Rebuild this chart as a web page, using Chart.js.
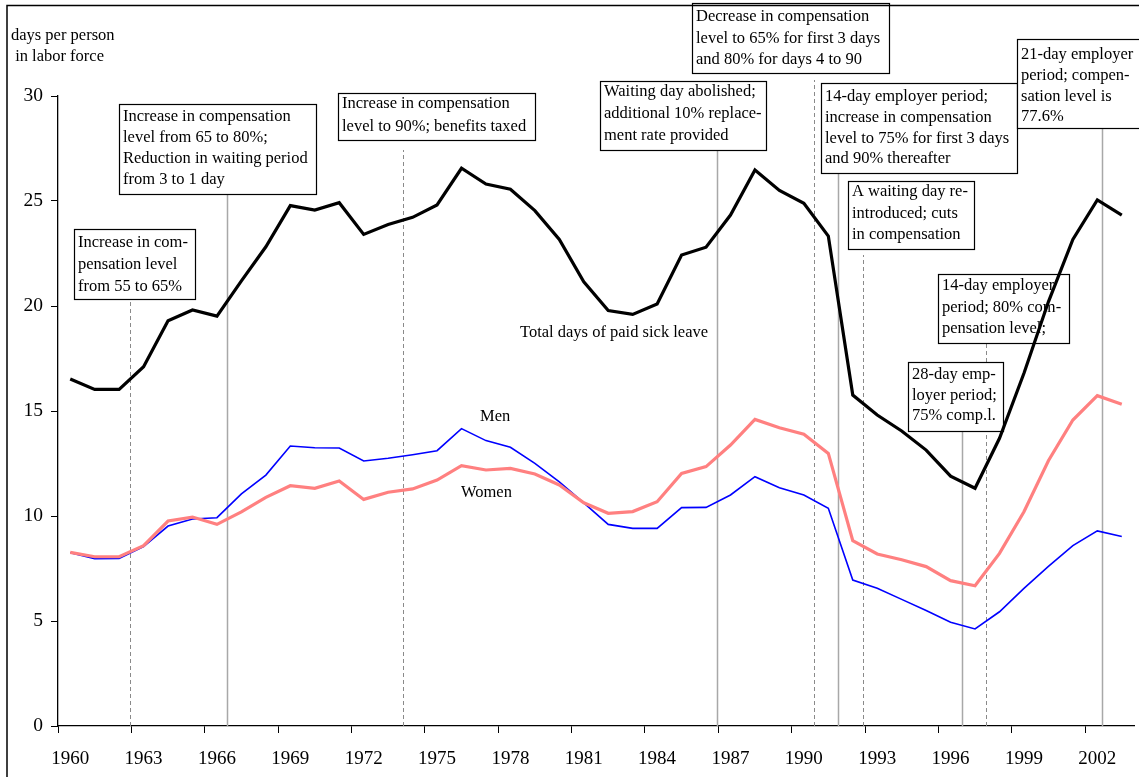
<!DOCTYPE html>
<html><head><meta charset="utf-8">
<script src="https://cdn.jsdelivr.net/npm/chart.js@4.4.0/dist/chart.umd.min.js"></script>
<style>html,body{margin:0;padding:0;background:#fff}#wrap{width:1139px;height:777px;position:relative}</style>
</head><body><div id="wrap"><canvas id="c" width="1139" height="777"></canvas></div>
<script>
// ---- data ----
const years = [1960,1961,1962,1963,1964,1965,1966,1967,1968,1969,1970,1971,1972,1973,1974,1975,1976,1977,1978,1979,1980,1981,1982,1983,1984,1985,1986,1987,1988,1989,1990,1991,1992,1993,1994,1995,1996,1997,1998,1999,2000,2001,2002,2003];
const totalDays = [16.52,16.03,16.03,17.11,19.30,19.81,19.52,21.20,22.82,24.78,24.57,24.92,23.41,23.88,24.22,24.81,26.56,25.81,25.56,24.54,23.17,21.15,19.78,19.60,20.10,22.43,22.80,24.33,26.48,25.50,24.89,23.33,15.76,14.81,14.05,13.14,11.90,11.32,13.70,16.80,20.20,23.17,25.05,24.33];
const menDays = [8.25,7.97,7.98,8.54,9.52,9.86,9.92,11.05,11.95,13.33,13.25,13.24,12.62,12.75,12.92,13.11,14.16,13.59,13.27,12.51,11.63,10.63,9.60,9.41,9.41,10.40,10.41,11.00,11.87,11.35,11.00,10.37,6.95,6.56,6.03,5.50,4.94,4.62,5.44,6.55,7.60,8.59,9.29,9.02];
const womenDays = [8.27,8.06,8.06,8.59,9.76,9.95,9.60,10.20,10.89,11.44,11.32,11.67,10.79,11.13,11.29,11.71,12.40,12.19,12.27,12.00,11.48,10.63,10.13,10.21,10.68,12.03,12.35,13.38,14.60,14.20,13.89,12.98,8.83,8.19,7.92,7.59,6.92,6.68,8.22,10.20,12.63,14.57,15.73,15.32];
const xTickYears = [1960,1963,1966,1969,1972,1975,1978,1981,1984,1987,1990,1993,1996,1999,2002];
const yTickValues = [0,5,10,15,20,25,30];
// policy change events (time of change) and whether drawn dashed
const eventTimes = [1962.45,1966.4,1973.6,1986.45,1990.4,1991.4,1992.4,1996.45,1997.45,2002.2];
const eventDashed = [true,false,true,false,true,false,true,false,true,false];
const eventTexts = [
  ["Increase in com-","pensation level","from 55 to 65%"],
  ["Increase in compensation","level from 65 to 80%;","Reduction in waiting period","from 3 to 1 day"],
  ["Increase in compensation","level to 90%; benefits taxed"],
  ["Waiting day abolished;","additional 10% replace-","ment rate provided"],
  ["Decrease in compensation","level to 65% for first 3 days","and 80% for days 4 to 90"],
  ["14-day employer period;","increase in compensation","level to 75% for first 3 days","and 90% thereafter"],
  ["A waiting day re-","introduced; cuts","in compensation"],
  ["28-day emp-","loyer period;","75% comp.l."],
  ["14-day employer","period; 80% com-","pensation level;"],
  ["21-day employer","period; compen-","sation level is","77.6%"]
];
const seriesLabels = ["Total days of paid sick leave","Men","Women"];
const yTitle = ["days per person"," in labor force"];

// ---- layout (pixels) ----
const boxLayout = [
  {x:74,y:229,w:121,h:70,ty:243,lh:22},
  {x:119,y:104,w:197,h:90,ty:117,lh:21},
  {x:338,y:93,w:197,h:47,ty:104,lh:23},
  {x:600,y:81,w:166,h:69,ty:92,lh:22},
  {x:692,y:3,w:197,h:70,ty:17,lh:21.5},
  {x:821,y:83,w:196,h:90,ty:97,lh:20.7},
  {x:848,y:181,w:126,h:68,ty:192,lh:21.5},
  {x:908,y:362,w:95,h:69,ty:375,lh:20.5},
  {x:938,y:274,w:131,h:69,ty:286,lh:21.3},
  {x:1017,y:39,w:140,h:89,ty:55,lh:20.6}
];
// connector lines run from the axis up to the bottom of their box (pixel y of box bottom)
const lineTopPx = [299,194,150,150,80,173,255,431,343,128];
const labelLayout = [{x:520,y:333},{x:480,y:417},{x:461,y:493}];
const FONT = "'Liberation Serif','Times New Roman',serif";

const mk = (arr) => years.map((yr,i)=>({x:yr,y:arr[i]}));

const datasets = [
  {label:seriesLabels[0], data:mk(totalDays), borderColor:'#000000', borderWidth:3.2, pointRadius:0, tension:0},
  {label:seriesLabels[2], data:mk(womenDays), borderColor:'#ff8080', borderWidth:3.2, pointRadius:0, tension:0},
  {label:seriesLabels[1], data:mk(menDays), borderColor:'#0000ff', borderWidth:1.6, pointRadius:0, tension:0}
];

// connector lines drawn through the chart's own scales, beneath the series
const connectors = {
  id:'connectors',
  beforeDatasetsDraw(chart){
    const ctx = chart.ctx, xs = chart.scales.x, ys = chart.scales.y;
    ctx.save();
    eventTimes.forEach((t,i)=>{
      const px = Math.round(xs.getPixelForValue(t)) + 0.5;
      ctx.beginPath();
      ctx.strokeStyle = eventDashed[i] ? '#8a8a8a' : '#a8a8a8';
      ctx.lineWidth = eventDashed[i] ? 1 : 1.5;
      ctx.setLineDash(eventDashed[i] ? [4,3] : []);
      ctx.moveTo(px, ys.getPixelForValue(0));
      ctx.lineTo(px, lineTopPx[i]);
      ctx.stroke();
    });
    ctx.restore();
  }
};

const annot = {
  id:'annot',
  beforeDatasetsDraw(chart){
    const ctx = chart.ctx;
    ctx.save();
    ctx.font = "16.5px " + FONT;
    ctx.textBaseline = 'middle';
    ctx.textAlign = 'left';
    boxLayout.forEach((b,i)=>{
      ctx.fillStyle = '#fff';
      ctx.fillRect(b.x,b.y,b.w,b.h);
      ctx.strokeStyle = '#000'; ctx.lineWidth = 1.2;
      ctx.strokeRect(b.x+0.5,b.y+0.5,b.w,b.h);
      ctx.fillStyle = '#000';
      eventTexts[i].forEach((ln,j)=> ctx.fillText(ln, b.x+4, b.ty + j*b.lh));
    });
    ctx.restore();
  },
  afterDraw(chart){
    const ctx = chart.ctx;
    ctx.save();
    ctx.strokeStyle='#000'; ctx.lineWidth=1.5;
    ctx.beginPath(); ctx.moveTo(7,777); ctx.lineTo(7,5.5); ctx.lineTo(1139,5.5); ctx.stroke();
    ctx.fillStyle='#000';
    ctx.textBaseline='middle'; ctx.textAlign='left';
    ctx.font = "16.5px " + FONT;
    ctx.fillText(yTitle[0], 11, 36);
    ctx.fillText(yTitle[1], 11, 57);
    labelLayout.forEach((l,i)=> ctx.fillText(seriesLabels[i], l.x, l.y));
    ctx.restore();
  }
};

new Chart(document.getElementById('c'), {
  type:'line',
  data:{datasets},
  options:{
    responsive:false, animation:false, devicePixelRatio:1,
    layout:{padding:{left:0,top:96,right:5,bottom:0}},
    plugins:{legend:{display:false}, tooltip:{enabled:false}},
    elements:{line:{borderCapStyle:'butt',borderJoinStyle:'miter'}},
    scales:{
      x:{type:'linear', min:years[0]-0.5, max:years[years.length-1]+0.5,
        afterBuildTicks:(ax)=>{ ax.ticks = xTickYears.map(v=>({value:v-0.5})); },
        afterFit:(ax)=>{ ax.height = 51; },
        ticks:{autoSkip:false, maxRotation:0, padding:15, labelOffset:12.2, color:'#000',
          font:{family:FONT,size:19}, callback:(v)=>String(Math.round(v+0.5))},
        grid:{drawOnChartArea:false, drawTicks:true, tickLength:7, color:'#000', lineWidth:1},
        border:{display:true,color:'#000',width:1.3}
      },
      y:{type:'linear', min:0, max:30,
        afterBuildTicks:(ax)=>{ ax.ticks = yTickValues.map(v=>({value:v})); },
        afterFit:(ax)=>{ ax.width = 58; },
        ticks:{padding:8, color:'#000', font:{family:FONT,size:19.5}},
        grid:{drawOnChartArea:false, drawTicks:true, tickLength:7, color:'#000', lineWidth:1},
        border:{display:true,color:'#000',width:1.3}
      }
    }
  },
  plugins:[connectors, annot]
});
</script></body></html>
